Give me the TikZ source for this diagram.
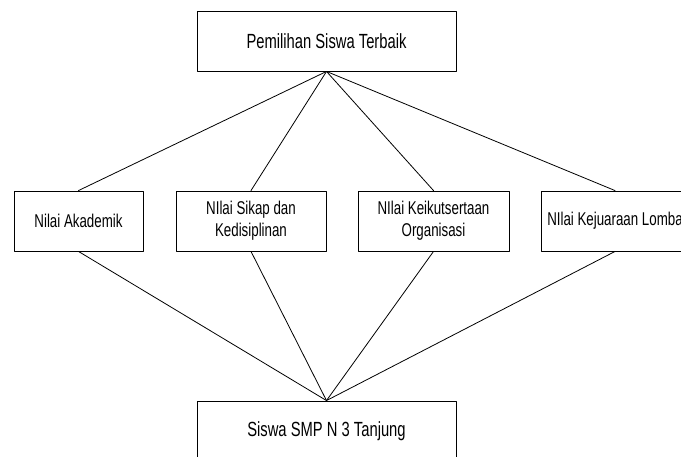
\documentclass[tikz,border=0pt]{standalone}
\usepackage{fontspec}
\setmainfont[FakeStretch=0.72]{Liberation Sans}
\begin{document}
\begin{tikzpicture}[x=1pt,y=-1pt,line cap=round,line join=round,
  kotak/.style={draw,line width=0.9pt,inner sep=2pt,align=center,
    minimum height=60pt,font=\fontsize{18.5}{22}\selectfont},
  garis/.style={line width=0.8pt}]
\clip (0,0) rectangle (681,456);
% kriteria utama
\node[kotak,minimum width=259pt,font=\fontsize{20.5}{24}\selectfont] (utama) at (326.5,41) {Pemilihan Siswa Terbaik};
% sub kriteria
\node[kotak,minimum width=129pt] (akademik) at (78.5,221) {Nilai Akademik};
\node[kotak,minimum width=150pt] (sikap) at (251,221) {NIlai Sikap dan\\Kedisiplinan};
\node[kotak,minimum width=151pt] (organisasi) at (433.5,221) {NIlai Keikutsertaan\\Organisasi};
\node[kotak,minimum width=148pt] (lomba) at (615,221) {NIlai Kejuaraan Lomba};
% alternatif
\node[kotak,minimum width=259pt,font=\fontsize{20.5}{24}\selectfont] (siswa) at (326.5,431) {Siswa SMP N 3 Tanjung};
\draw [garis] (utama.south) -- (akademik.north);
\draw [garis] (utama.south) -- (sikap.north);
\draw [garis] (utama.south) -- (organisasi.north);
\draw [garis] (utama.south) -- (lomba.north);
\draw [garis] (akademik.south) -- (siswa.north);
\draw [garis] (sikap.south) -- (siswa.north);
\draw [garis] (organisasi.south) -- (siswa.north);
\draw [garis] (lomba.south) -- (siswa.north);
\end{tikzpicture}
\end{document}
